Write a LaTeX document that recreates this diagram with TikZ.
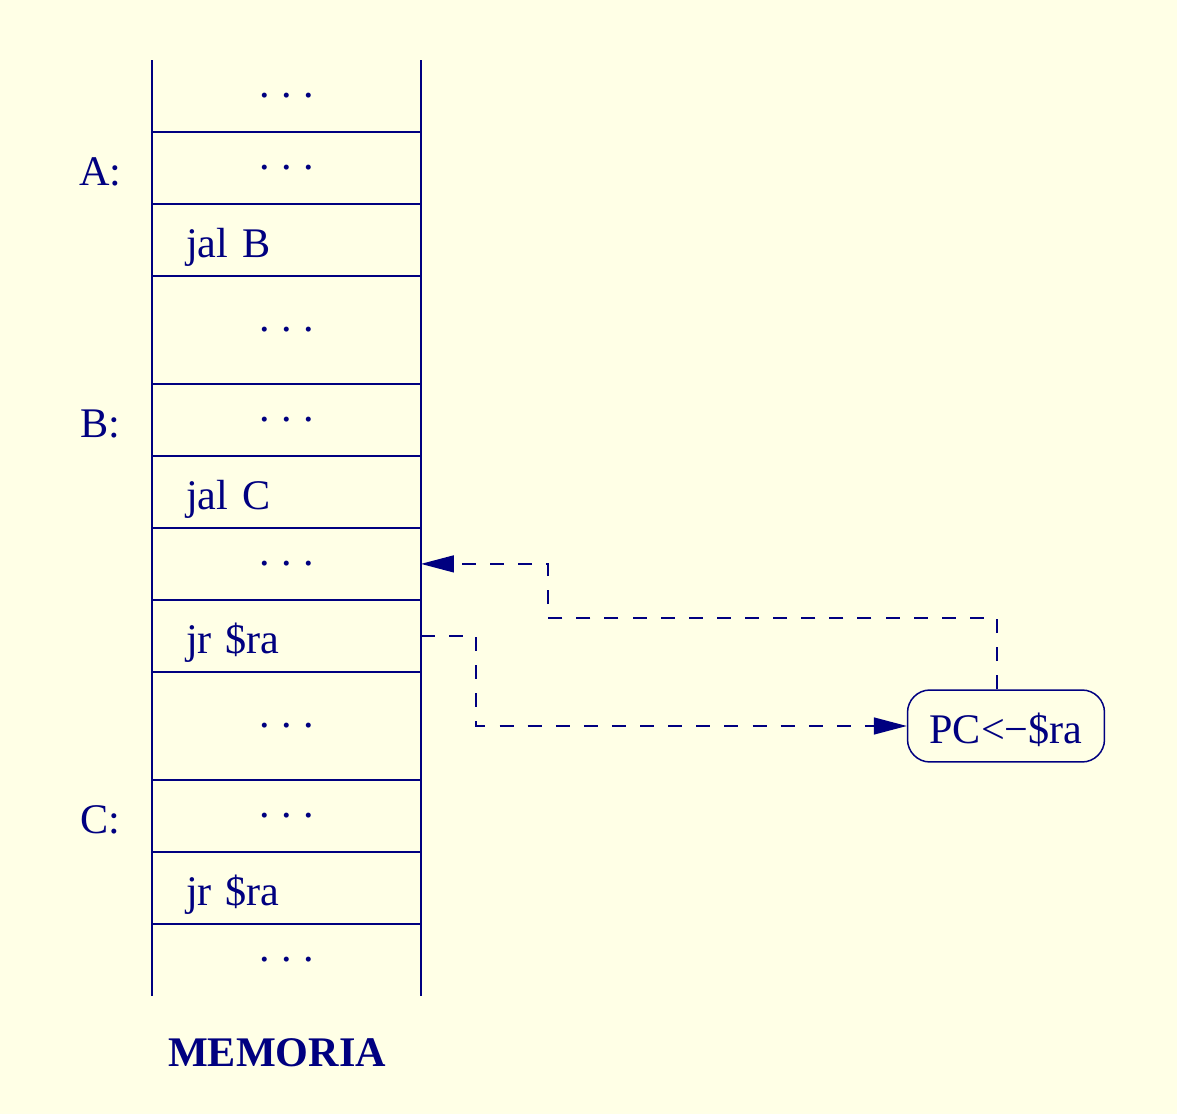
\documentclass[tikz,border=0pt]{standalone}
\usepackage{fontspec}
\setmainfont{Liberation Serif}
\usetikzlibrary{positioning,arrows.meta}

\definecolor{ink}{RGB}{0,0,128}
\definecolor{paper}{RGB}{255,255,230}

% spaced dots for words left out
\newcommand\wdots{.\kern0.23cm.\kern0.23cm.}

\tikzset{
  cell/.style={minimum width=5.38cm, minimum height=1.44cm, inner sep=0pt, outer sep=0pt},
  tall/.style={cell, minimum height=2.16cm},
  code/.style={cell, align=left, text width=4.02cm, inner xsep=0.68cm,
               text height=0.76cm, text depth=0.04cm},
  tag/.style={inner sep=0pt, text height=0.76cm, text depth=0.04cm},
  box/.style={draw, rounded corners=0.45cm, minimum height=1.44cm, inner xsep=0.44cm,
              inner ysep=0pt, text height=0.76cm, text depth=0.04cm},
  title/.style={font=\fontsize{24pt}{29pt}\selectfont\bfseries},
  link/.style={dash pattern=on 8pt off 8pt, -{Triangle[length=0.66cm,width=0.34cm]}},
}

\begin{document}
\begin{tikzpicture}[x=0.02cm, y=-0.02cm, ink, line width=0.85pt,
                    font=\fontsize{24pt}{29pt}\selectfont]

    % page
    \fill[paper] (0,0) rectangle (1177,1114);

    % memory words, top to bottom
    \node[cell] (m1) at (286.5,96) {\wdots};
    \node[cell, below=0pt of m1] (m2) {\wdots};
    \node[code, below=0pt of m2] (m3) {jal B};
    \node[tall, below=0pt of m3] (m4) {\wdots};
    \node[cell, below=0pt of m4] (m5) {\wdots};
    \node[code, below=0pt of m5] (m6) {jal C};
    \node[cell, below=0pt of m6] (m7) {\wdots};
    \node[code, below=0pt of m7] (m8) {jr \$ra};
    \node[tall, below=0pt of m8] (m9) {\wdots};
    \node[cell, below=0pt of m9] (m10) {\wdots};
    \node[code, below=0pt of m10] (m11) {jr \$ra};
    \node[cell, below=0pt of m11] (m12) {\wdots};

    % column walls and word separators
    \draw (m1.north west) -- (m12.south west);
    \draw (m1.north east) -- (m12.south east);
    \foreach \i in {1,...,11}
        \draw (m\i.south west) -- (m\i.south east);

    % labels
    \node[tag, left=0.6cm of m2] (la) {A:};
    \node[tag, left=0.62cm of m5] (lb) {B:};
    \node[tag, left=0.62cm of m10] (lc) {C:};
    \node[title] (mem) at (277,1053) {MEMORIA};

    % return
    \node[box] (pc) at (1006,726) {PC<−\$ra};
    \coordinate (k1) at (548,618);
    \coordinate (k2) at (476,726);
    \draw[link] (m8.east) -| (k2) -- (pc.west);
    \draw[link] ([xshift=-0.18cm]pc.north) |- (k1) |- (m7.east);
\end{tikzpicture}
\end{document}
